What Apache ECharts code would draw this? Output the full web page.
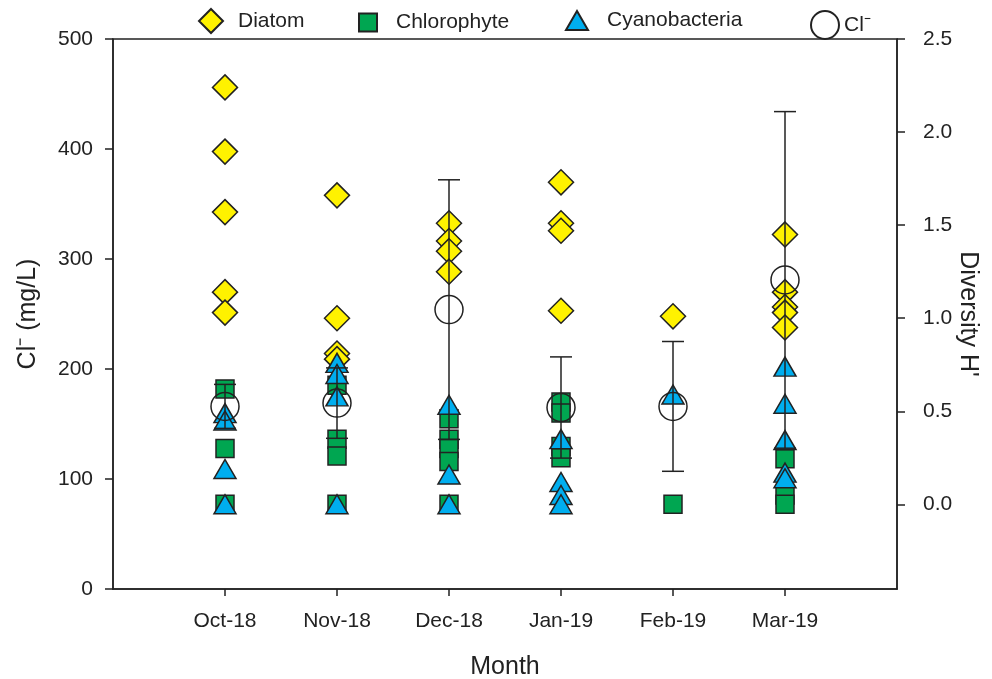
<!DOCTYPE html>
<html>
<head>
<meta charset="utf-8">
<title>Cl⁻ and phytoplankton diversity by month</title>
<script src="https://cdn.jsdelivr.net/npm/echarts@6/dist/echarts.min.js"></script>
<style>
  html, body { margin: 0; padding: 0; background: #fff; }
  #chart { width: 992px; height: 679px; }
</style>
</head>
<body>
<div id="chart"></div>
<script>
// Sampling months (x positions 1..6 on the month axis)
const months = ['Oct-18', 'Nov-18', 'Dec-18', 'Jan-19', 'Feb-19', 'Mar-19'];

// Chloride, mean and error (mg/L), left axis
const clMean = [166, 169, 254, 165, 166, 281];
const clErr = [20, 32, 118, 46, 59, 153];

// Diversity H' per month, right axis
const diatomH = [
  [2.24, 1.895, 1.57, 1.14, 1.03],
  [1.66, 1.0, 0.81, 0.78],
  [1.51, 1.415, 1.36, 1.25],
  [1.73, 1.51, 1.47, 1.04],
  [1.01],
  [1.45, 1.14, 1.06, 1.03, 0.95]
];
const chlorophyteH = [
  [0.62, 0.30, 0.0],
  [0.64, 0.35, 0.26, 0.0],
  [0.46, 0.35, 0.30, 0.23, 0.0],
  [0.55, 0.49, 0.31, 0.25],
  [0.0],
  [0.245, 0.05, 0.0]
];
const cyanoH = [
  [0.49, 0.45, 0.19, 0.0],
  [0.76, 0.70, 0.58, 0.0],
  [0.535, 0.16, 0.0],
  [0.35, 0.12, 0.05, 0.0],
  [0.59],
  [0.74, 0.54, 0.345, 0.17, 0.14]
];

// Right-axis labelled ticks
const hTicks = [0, 0.5, 1.0, 1.5, 2.0, 2.5];

const FONT = 'Liberation Sans, Arial, Helvetica, sans-serif';
const INK = '#222';
const TICK_FONT = 21;
const TITLE_FONT = 25;

function flatten(groups) {
  const out = [];
  groups.forEach((vals, i) => vals.forEach(v => out.push([i + 1, v])));
  return out;
}

const clPoints = clMean.map((m, i) => [i + 1, m]);
const clBars = clMean.map((m, i) => [i + 1, m - clErr[i], m + clErr[i]]);

const chart = echarts.init(document.getElementById('chart'), null, { renderer: 'canvas' });

function legendItem(name, left, top, w, h, textPad) {
  return {
    left: left, top: top, data: [name], itemWidth: w, itemHeight: h,
    orient: 'horizontal', selectedMode: false,
    textStyle: { fontFamily: FONT, fontSize: TICK_FONT, color: INK, padding: [0, 0, 0, textPad] }
  };
}

chart.setOption({
  animation: false,
  backgroundColor: '#fff',
  legend: [
    legendItem('Diatom', 193, 3, 24, 24, 10),
    legendItem('Chlorophyte', 353, 7, 18, 18, 14),
    legendItem('Cyanobacteria', 560, 5, 22, 19, 14),
    legendItem('Cl⁻', 805, 5, 28, 28, 0)
  ],
  grid: {
    left: 113, right: 95, top: 39, bottom: 90,
    outerBoundsMode: 'none', containLabel: false,
    show: true, borderColor: INK, borderWidth: 1.5, backgroundColor: 'transparent'
  },
  xAxis: {
    type: 'value', min: 0, max: 7, interval: 1,
    name: 'Month', nameLocation: 'middle', nameGap: 66, nameMoveOverlap: false,
    nameTextStyle: { fontFamily: FONT, fontSize: TITLE_FONT, color: INK },
    axisLine: { show: true, lineStyle: { color: INK, width: 1.5 } },
    axisTick: { show: true, length: 7, lineStyle: { color: INK, width: 1.5 },
      customValues: months.map((m, i) => i + 1) },
    axisLabel: { fontFamily: FONT, fontSize: TICK_FONT, color: INK, margin: 22,
      customValues: months.map((m, i) => i + 1),
      formatter: v => months[Math.round(v) - 1] || '' },
    splitLine: { show: false }
  },
  yAxis: [
    {
      type: 'value', min: 0, max: 500, interval: 100, position: 'left',
      name: 'Cl⁻ (mg/L)', nameLocation: 'middle', nameGap: 72, nameRotate: 90,
      nameMoveOverlap: false,
      nameTextStyle: { fontFamily: FONT, fontSize: TITLE_FONT, color: INK },
      axisLine: { show: true, lineStyle: { color: INK, width: 1.5 } },
      axisTick: { show: true, length: 8, lineStyle: { color: INK, width: 1.5 } },
      axisLabel: { fontFamily: FONT, fontSize: TICK_FONT, color: INK, margin: 20 },
      splitLine: { show: false }
    },
    {
      type: 'value', min: -0.455, max: 2.5, position: 'right',
      name: "Diversity H'", nameLocation: 'middle', nameGap: 58, nameRotate: -90,
      nameMoveOverlap: false,
      nameTextStyle: { fontFamily: FONT, fontSize: TITLE_FONT, color: INK },
      axisLine: { show: true, lineStyle: { color: INK, width: 1.5 } },
      axisTick: { show: true, length: 8, lineStyle: { color: INK, width: 1.5 },
        customValues: hTicks },
      axisLabel: { fontFamily: FONT, fontSize: TICK_FONT, color: INK, margin: 26,
        customValues: hTicks, formatter: v => v.toFixed(1) },
      splitLine: { show: false }
    }
  ],
  series: [
    {
      name: 'Diatom', type: 'scatter', yAxisIndex: 1, z: 2,
      symbol: 'diamond', symbolSize: [25, 25],
      itemStyle: { color: '#FFF200', borderColor: INK, borderWidth: 1.5, opacity: 1 },
      data: flatten(diatomH)
    },
    {
      name: 'Chlorophyte', type: 'scatter', yAxisIndex: 1, z: 3,
      symbol: 'rect', symbolSize: [18, 18],
      itemStyle: { color: '#00A651', borderColor: INK, borderWidth: 1.5, opacity: 1 },
      data: flatten(chlorophyteH)
    },
    {
      name: 'Cyanobacteria', type: 'scatter', yAxisIndex: 1, z: 4,
      symbol: 'triangle', symbolSize: [22, 19],
      itemStyle: { color: '#00AEEF', borderColor: INK, borderWidth: 1.5, opacity: 1 },
      data: flatten(cyanoH)
    },
    {
      name: 'Cl⁻ error', type: 'custom', yAxisIndex: 0, z: 5,
      renderItem: function (params, api) {
        const top = api.coord([api.value(0), api.value(2)]);
        const bot = api.coord([api.value(0), api.value(1)]);
        const cap = 11;
        const style = { stroke: INK, lineWidth: 1.5 };
        return {
          type: 'group',
          children: [
            { type: 'line', shape: { x1: top[0], y1: top[1], x2: bot[0], y2: bot[1] }, style },
            { type: 'line', shape: { x1: top[0] - cap, y1: top[1], x2: top[0] + cap, y2: top[1] }, style },
            { type: 'line', shape: { x1: bot[0] - cap, y1: bot[1], x2: bot[0] + cap, y2: bot[1] }, style }
          ]
        };
      },
      encode: { x: 0, y: [1, 2] },
      data: clBars
    },
    {
      name: 'Cl⁻', type: 'scatter', yAxisIndex: 0, z: 6,
      symbol: 'circle', symbolSize: 28,
      itemStyle: { color: 'rgba(255,255,255,0)', borderColor: INK, borderWidth: 1.5, opacity: 1 },
      data: clPoints
    }
  ]
});
</script>
</body>
</html>
